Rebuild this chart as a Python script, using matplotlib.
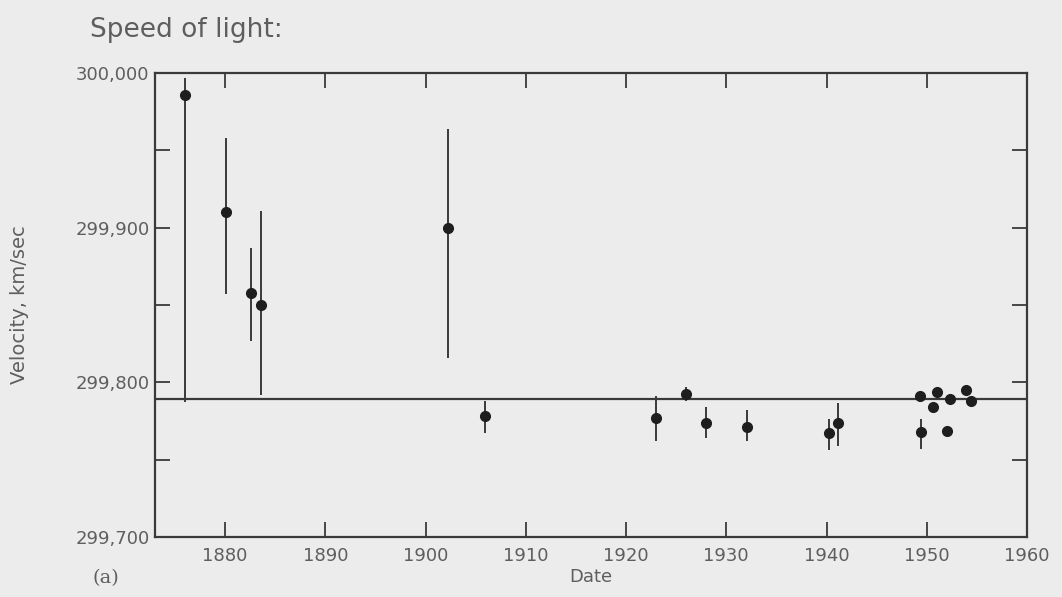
import matplotlib.pyplot as plt
import numpy as np

years = [1876.0, 1880.1, 1882.6, 1883.6, 1902.2, 1905.9, 1923.0, 1926.0, 1928.0,
         1932.1, 1940.2, 1941.1, 1949.3, 1949.4, 1951.0, 1950.6, 1952.3, 1952.0,
         1953.9, 1954.4]
velocity = [299986, 299910, 299858, 299850, 299900, 299778, 299777, 299792.5, 299774,
            299771, 299767, 299774, 299791, 299768, 299794, 299784, 299789, 299768.5,
            299795, 299788]
bar_low = [299787, 299857, 299827, 299792, 299816, 299767, 299762, 299788, 299764,
           299762, 299756, 299759, 299791, 299757, 299794, 299784, 299789, 299768.5,
           299795, 299788]
bar_high = [299997, 299958, 299887, 299911, 299964, 299788, 299791, 299797, 299784,
            299782, 299776, 299786.5, 299791, 299776, 299794, 299784, 299789, 299768.5,
            299795, 299788]
accepted = 299789

xticks = [1880, 1890, 1900, 1910, 1920, 1930, 1940, 1950, 1960]
yticks = [299700, 299800, 299900, 300000]
ytick_labels = ['299,700', '299,800', '299,900', '300,000']

bg = '#ececec'
ink = '#3a3a3a'
txt = '#5e5e5e'

fig = plt.figure(figsize=(10.62, 5.97), dpi=100, facecolor=bg)
ax = fig.add_axes([155/1062, 1-537/597, (1027-155)/1062, (537-73)/597])
ax.set_facecolor(bg)

v = np.array(velocity)
lo = v - np.array(bar_low)
hi = np.array(bar_high) - v

# accepted value line
ax.axhline(accepted, color=ink, linewidth=1.6, zorder=2)

# error bars and points
ax.errorbar(years, velocity, yerr=[lo, hi], fmt='o', color='#1e1e1e', ecolor=ink,
            elinewidth=1.4, capsize=0, markersize=7, zorder=3)

ax.set_xlim(1873, 1960)
ax.set_ylim(299700, 300000)
ax.set_xticks(xticks)
ax.set_yticks(yticks)
ax.set_yticklabels(ytick_labels)
ax.set_yticks([299750, 299850, 299950], minor=True)

ax.tick_params(which='both', direction='in', length=11, width=1.3, color=ink,
               top=True, right=True, labelsize=13, labelcolor=txt, pad=4)
ax.tick_params(axis='x', pad=7)
for s in ax.spines.values():
    s.set_color(ink)
    s.set_linewidth(1.6)

ax.set_xlabel('Date', fontsize=13, color=txt, labelpad=2)
ax.set_ylabel('Velocity, km/sec', fontsize=14, color=txt)
ax.yaxis.set_label_coords(-0.145, 0.5)

fig.text(90/1062, 1-30/597, 'Speed of light:', fontsize=19, color=txt,
         va='center', ha='left')
fig.text(92/1062, 1-578/597, '(a)', fontsize=14, color=txt, family='DejaVu Serif',
         va='center', ha='left')

fig.savefig('out.png', dpi=100, facecolor=bg)
